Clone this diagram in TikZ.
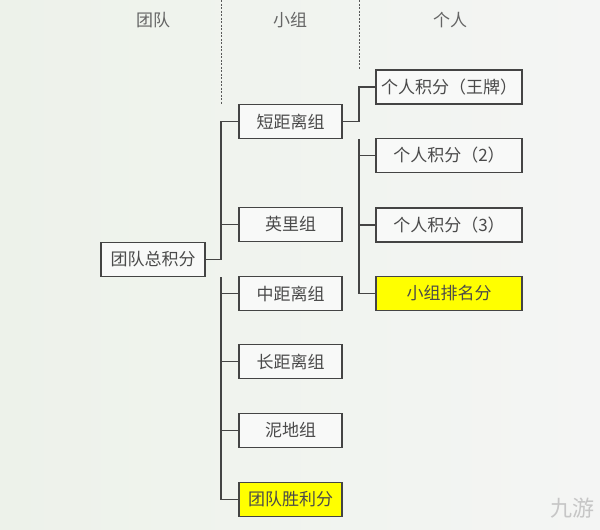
\documentclass[tikz,border=0pt]{standalone}
\usepackage{fontspec}
\newfontfamily\cjk{Noto Sans CJK SC}
\definecolor{bgA}{HTML}{EDF2EA}
\definecolor{bgB}{HTML}{F4F5F4}
\definecolor{boxline}{HTML}{444444}
\definecolor{txt}{HTML}{4A4A4A}
\definecolor{hl}{HTML}{FFFF00}
\begin{document}
\begin{tikzpicture}[x=1pt,y=-1pt,
  box/.style={draw=boxline,line width=1.2pt,fill=white!40!bgB,text=txt,inner sep=0pt,
    minimum height=34pt,font=\cjk\fontsize{17}{17}\selectfont},
  grp/.style={box,minimum width=103pt},
  ind/.style={box,minimum width=146pt},
  hot/.style={fill=hl},
  conn/.style={draw=boxline,line width=1.2pt},
  sep/.style={draw=gray!70!black,line width=1pt,dash pattern=on 2pt off 1.5pt},
  head/.style={text=txt!85,font=\cjk\fontsize{17}{17}\selectfont}]
\useasboundingbox (0,0) rectangle (600,530);
\shade[left color=bgA,right color=bgB] (0,0) rectangle (600,530);
% headers
\node[head] (h1) at (153,20) {团队};
\node[head] (h2) at (290,20) {小组};
\node[head] (h3) at (450,20) {个人};
\coordinate (s1a) at (221,0); \coordinate (s1b) at (221,104);
\coordinate (s2a) at (359,0); \coordinate (s2b) at (359,70);
\draw[sep] (s1a) -- (s1b);
\draw[sep] (s2a) -- (s2b);
% nodes
\node[box,minimum width=104pt] (total) at (153,259.5) {团队总积分};
\node[grp] (dj) at (290.5,121.5) {短距离组};
\node[grp] (yl) at (290.5,224.5) {英里组};
\node[grp] (zj) at (290.5,293.5) {中距离组};
\node[grp] (cj) at (290.5,361.5) {长距离组};
\node[grp] (nd) at (290.5,430.5) {泥地组};
\node[grp,hot] (win) at (290.5,499.5) {团队胜利分};
\node[ind] (wp) at (449,87) {个人积分（王牌）};
\node[ind] (p2) at (449,155.5) {个人积分（2）};
\node[ind] (p3) at (449,225) {个人积分（3）};
\node[ind,hot] (rank) at (449,293.5) {小组排名分};
% connectors
\draw[conn] (total.east) -| (221,121.5) -- (dj.west);
\draw[conn] (221,224.5) -- (yl.west);
\coordinate (lowtop) at (221,277);
\draw[conn] (lowtop) |- (win.west);
\draw[conn] (221,293.5) -- (zj.west);
\draw[conn] (221,361.5) -- (cj.west);
\draw[conn] (221,430.5) -- (nd.west);
\draw[conn] (dj.east) -| (359,87) -- (wp.west);
\coordinate (rtop) at (359,139);
\draw[conn] (rtop) |- (rank.west);
\draw[conn] (359,155.5) -- (p2.west);
\draw[conn] (359,225) -- (p3.west);
% watermark
\node[text=gray!45,font=\cjk\fontsize{22}{22}\selectfont] (wm) at (572,508) {九游};
\end{tikzpicture}
\end{document}
